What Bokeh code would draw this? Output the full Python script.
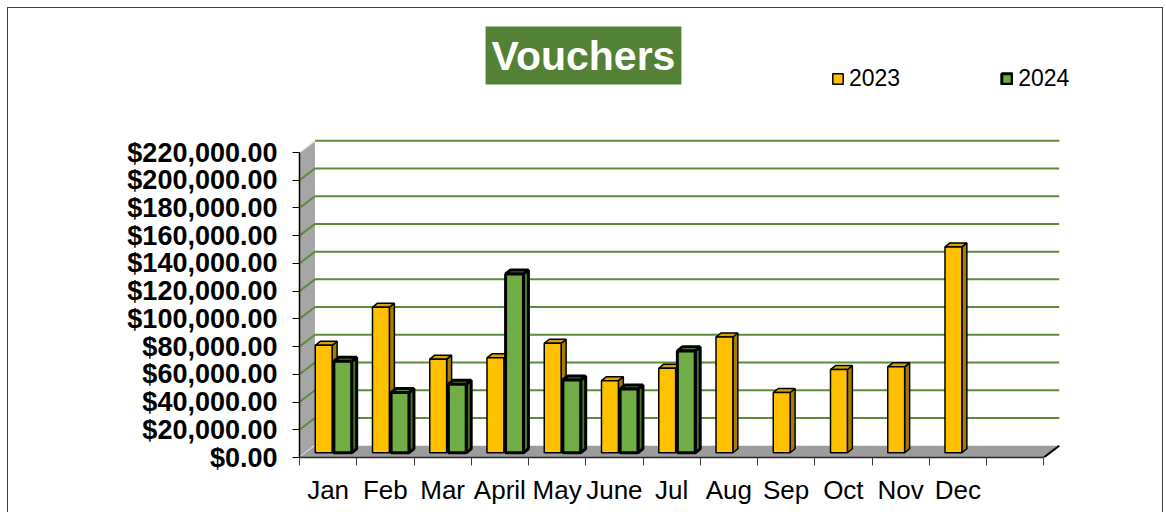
from bokeh.plotting import figure
from bokeh.models import (Range1d, FixedTicker, NumeralTickFormatter, Label, Legend,
                          LegendItem, InlineStyleSheet)
from bokeh.embed import file_html
from bokeh.resources import INLINE

# ---------------- data ----------------
months = ["Jan", "Feb", "Mar", "April", "May", "June", "Jul",
          "Aug", "Sep", "Oct", "Nov", "Dec"]
v2023 = [77500, 105000, 67500, 68500, 79000, 52000, 61000,
         83500, 43500, 60000, 62000, 148500]
v2024 = [66000, 43500, 49500, 129000, 52500, 46000, 73500]
series_names = ["2023", "2024"]
y_ticks = list(range(0, 220001, 20000))

# ---------------- geometry / style ----------------
N_SLOTS = 13            # 12 months + one empty slot, as in the reference
DX, DY = 0.27, 8500     # depth of walls / floor (data units)
BDX, BDY = 0.087, 2900  # depth of each bar
BASE = 3400             # bars stand slightly behind the front edge
Y_TOP = y_ticks[-1]
FONT = "Liberation Sans"

# pixel scale of the frame
W, H = 1164, 512
B_LEFT, B_RIGHT, B_TOP, B_BOTTOM = 299, 54, 10, 55
PX_PER_SLOT = 57.25
PX_PER_UNIT = 305.0 / Y_TOP
frame_w = W - B_LEFT - B_RIGHT
frame_h = H - B_TOP - B_BOTTOM

YEL, YEL_TOP, YEL_SIDE = "#FFC000", "#D9A400", "#A67D00"
GRN, GRN_TOP, GRN_SIDE = "#70AD47", "#5E9439", "#4B7A2D"
GRID = "#5B8C3A"

p = figure(width=W, height=H,
           x_range=Range1d(0, frame_w / PX_PER_SLOT),
           y_range=Range1d(0, frame_h / PX_PER_UNIT),
           output_backend="svg", toolbar_location=None,
           min_border_left=B_LEFT, min_border_right=B_RIGHT,
           min_border_top=B_TOP, min_border_bottom=B_BOTTOM)
p.outline_line_color = None
p.xgrid.visible = False
p.ygrid.visible = False
p.background_fill_color = "white"
p.border_fill_color = "white"

p.stylesheets = [InlineStyleSheet(css="""
:host { position: relative; }
:host::after { content: ""; position: absolute; left: 7px; top: 7px; right: 1px; bottom: 0;
  border: 1px solid #404040; border-bottom: none; pointer-events: none; z-index: 10; }
""")]

# ---------------- walls, grid, floor ----------------
p.patch([0, DX, DX, 0], [0, DY, Y_TOP + DY, Y_TOP],
        fill_color="#A6A6A6", line_color=None)

gv = [v for v in y_ticks if v > 0]
p.segment(x0=[DX] * len(gv), y0=[v + DY for v in gv],
          x1=[N_SLOTS + DX] * len(gv), y1=[v + DY for v in gv],
          line_color=GRID, line_width=2)
gd = [v for v in y_ticks if 0 < v < Y_TOP]
p.segment(x0=[0] * len(gd), y0=gd, x1=[DX] * len(gd), y1=[v + DY for v in gd],
          line_color=GRID, line_width=2)
p.segment(x0=[0, 0], y0=[0, Y_TOP], x1=[DX, DX], y1=[DY, Y_TOP + DY],
          line_color="#EDEDED", line_width=1.5)

p.patch([0, N_SLOTS, N_SLOTS + DX, DX], [0, 0, DY, DY],
        fill_color="#9C9C9C", line_color=None)
p.line([N_SLOTS, N_SLOTS + DX], [0, DY], line_color="black", line_width=2)


# ---------------- 3-D bars ----------------
def bar_faces(values, f0, f1):
    fx, fy, tx, ty, sx, sy = [], [], [], [], [], []
    for i, v in enumerate(values):
        a, b = i + f0, i + f1
        y0, y1 = BASE, BASE + v
        fx.append([a, b, b, a]); fy.append([y0, y0, y1, y1])
        tx.append([a, b, b + BDX, a + BDX]); ty.append([y1, y1, y1 + BDY, y1 + BDY])
        sx.append([b, b + BDX, b + BDX, b]); sy.append([y0, y0 + BDY, y1 + BDY, y1])
    return fx, fy, tx, ty, sx, sy


def draw_bars(values, f0, f1, c_front, c_top, c_side, lw):
    fx, fy, tx, ty, sx, sy = bar_faces(values, f0, f1)
    p.patches(sx, sy, fill_color=c_side, line_color="black", line_width=lw)
    p.patches(tx, ty, fill_color=c_top, line_color="black", line_width=lw)
    return p.patches(fx, fy, fill_color=c_front, line_color="black", line_width=lw)


r23 = draw_bars(v2023, 0.275, 0.57, YEL, YEL_TOP, YEL_SIDE, 1.5)
r24 = draw_bars(v2024, 0.60, 0.912, GRN, GRN_TOP, GRN_SIDE, 3)

# ---------------- axes ----------------
xa = p.xaxis[0]
xa.ticker = FixedTicker(ticks=[i + 0.5 for i in range(len(months))],
                        minor_ticks=list(range(N_SLOTS + 1)))
xa.major_label_overrides = {i + 0.5: m for i, m in enumerate(months)}
xa.bounds = (0, N_SLOTS)
xa.major_tick_out = 0
xa.major_tick_in = 0
xa.minor_tick_out = 8
xa.minor_tick_in = 0
xa.minor_tick_line_color = "#404040"
xa.axis_line_color = "#262626"
xa.axis_line_width = 1.5
xa.major_label_text_font = FONT
xa.major_label_text_font_size = "26px"
xa.major_label_text_color = "black"
xa.major_label_standoff = 9

ya = p.yaxis[0]
ya.ticker = FixedTicker(ticks=y_ticks, minor_ticks=[])
ya.formatter = NumeralTickFormatter(format="$0,0.00")
ya.bounds = (0, Y_TOP)
ya.major_tick_out = 7
ya.major_tick_in = 0
ya.major_tick_line_color = "black"
ya.axis_line_color = "black"
ya.axis_line_width = 1.5
ya.major_label_text_font = FONT
ya.major_label_text_font_style = "bold"
ya.major_label_text_font_size = "27px"
ya.major_label_text_color = "black"
ya.major_label_standoff = 15

# ---------------- title & legend ----------------
title = Label(x=284, y=402, x_units="screen", y_units="screen", text="Vouchers",
              text_font=FONT, text_font_style="bold", text_font_size="41px",
              text_color="white", text_align="center", text_baseline="middle",
              background_fill_color="#538135", padding=6)
p.add_layout(title)

legend = Legend(items=[LegendItem(label=series_names[0], renderers=[r23]),
                       LegendItem(label=series_names[1], renderers=[r24])],
                orientation="horizontal", location=(532, 365),
                spacing=100, glyph_width=13, glyph_height=13, label_standoff=5,
                label_text_font=FONT, label_text_font_size="23px",
                label_text_color="black",
                padding=0, margin=0, border_line_color=None,
                background_fill_alpha=0)
p.add_layout(legend)

open("out.html", "w").write(file_html(p, INLINE))
